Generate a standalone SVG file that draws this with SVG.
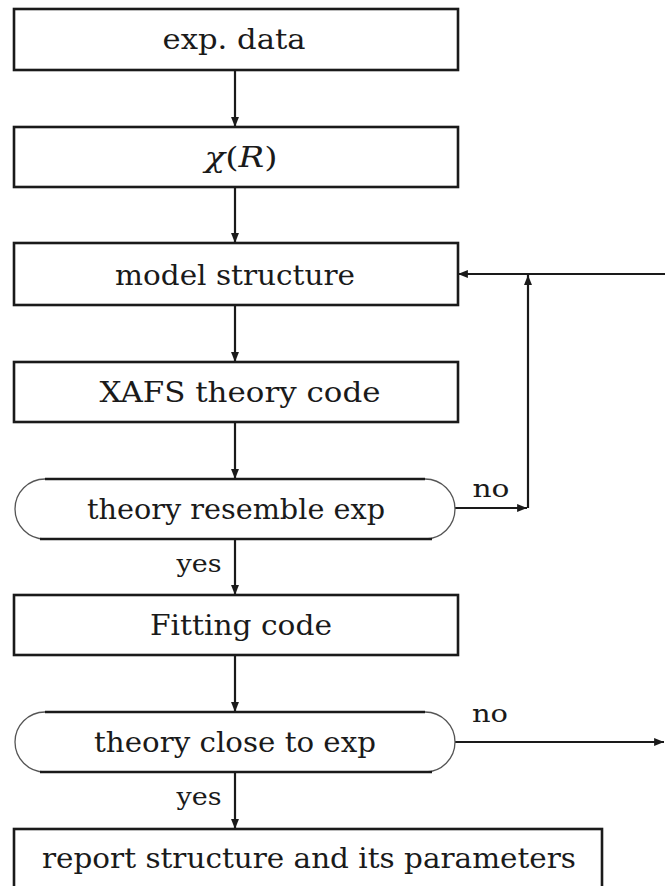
<svg xmlns="http://www.w3.org/2000/svg" width="665" height="886" viewBox="0 0 665 886">
<style>
.box{fill:#fff;stroke:#1a1a1a;stroke-width:2.6}
.arc{fill:#fff;stroke:#555;stroke-width:1.3}
.edge{stroke:#1a1a1a;stroke-width:2.6;fill:none}
.ln{stroke:#1a1a1a;stroke-width:2.2;fill:none}
.t{font-family:'DejaVu Serif','Liberation Serif',serif;font-size:27px;fill:#1a1a1a;text-anchor:middle}
.lbl{font-size:24px}
</style>
<defs>
<marker id="ah" viewBox="0 0 10 10" refX="10" refY="5" markerWidth="4.5" markerHeight="4.5" orient="auto" markerUnits="strokeWidth">
<path d="M0,1 L10,5 L0,9 z" fill="#1a1a1a"/>
</marker>
</defs>
<g id="connectors">
<line class="ln" x1="235" y1="70" x2="235" y2="127" marker-end="url(#ah)"/>
<line class="ln" x1="235" y1="187" x2="235" y2="243" marker-end="url(#ah)"/>
<line class="ln" x1="235" y1="305" x2="235" y2="362" marker-end="url(#ah)"/>
<line class="ln" x1="235" y1="422" x2="235" y2="479" marker-end="url(#ah)"/>
<line class="ln" x1="235" y1="539" x2="235" y2="595" marker-end="url(#ah)"/>
<line class="ln" x1="235" y1="655" x2="235" y2="712" marker-end="url(#ah)"/>
<line class="ln" x1="235" y1="772" x2="235" y2="829" marker-end="url(#ah)"/>
<line class="ln" x1="455" y1="508" x2="527" y2="508" marker-end="url(#ah)"/>
<line class="ln" x1="528" y1="508" x2="528" y2="275" marker-end="url(#ah)"/>
<line class="ln" x1="665" y1="274" x2="458" y2="274" marker-end="url(#ah)"/>
<line class="ln" x1="455" y1="742" x2="664" y2="742" marker-end="url(#ah)"/>
<text class="t lbl" x="491" y="497" textLength="37" lengthAdjust="spacingAndGlyphs">no</text>
<text class="t lbl" x="490" y="722" textLength="36" lengthAdjust="spacingAndGlyphs">no</text>
<text class="t lbl" x="199" y="572" textLength="45" lengthAdjust="spacingAndGlyphs">yes</text>
<text class="t lbl" x="199" y="805" textLength="45" lengthAdjust="spacingAndGlyphs">yes</text>
</g>
<g id="n1">
<rect class="box" x="14" y="9" width="444" height="61"/>
<text class="t" x="234" y="49" textLength="143" lengthAdjust="spacingAndGlyphs">exp. data</text>
</g>
<g id="n2">
<rect class="box" x="14" y="127" width="444" height="60"/>
<text class="t" x="241" y="167" textLength="73" lengthAdjust="spacingAndGlyphs"><tspan font-style="italic">χ</tspan>(<tspan font-style="italic">R</tspan>)</text>
</g>
<g id="n3">
<rect class="box" x="14" y="243" width="444" height="62"/>
<text class="t" x="235" y="285" textLength="240" lengthAdjust="spacingAndGlyphs">model structure</text>
</g>
<g id="n4">
<rect class="box" x="14" y="362" width="444" height="60"/>
<text class="t" x="240" y="402" textLength="281" lengthAdjust="spacingAndGlyphs">XAFS theory code</text>
</g>
<g id="n5">
<path class="arc" d="M45,479 H425 A30,30 0 0 1 425,539 H45 A30,30 0 0 1 45,479 Z"/>
<line class="edge" x1="45" y1="479" x2="425" y2="479"/>
<line class="edge" x1="40" y1="539" x2="432" y2="539"/>
<text class="t" x="236" y="519" textLength="298" lengthAdjust="spacingAndGlyphs">theory resemble exp</text>
</g>
<g id="n6">
<rect class="box" x="14" y="595" width="444" height="60"/>
<text class="t" x="241" y="635" textLength="182" lengthAdjust="spacingAndGlyphs">Fitting code</text>
</g>
<g id="n7">
<path class="arc" d="M45,712 H425 A30,30 0 0 1 425,772 H45 A30,30 0 0 1 45,712 Z"/>
<line class="edge" x1="45" y1="712" x2="425" y2="712"/>
<line class="edge" x1="40" y1="772" x2="432" y2="772"/>
<text class="t" x="235" y="752" textLength="282" lengthAdjust="spacingAndGlyphs">theory close to exp</text>
</g>
<g id="n8">
<rect class="box" x="14" y="829" width="588" height="70"/>
<text class="t" x="309" y="868" textLength="534" lengthAdjust="spacingAndGlyphs">report structure and its parameters</text>
</g>
</svg>
